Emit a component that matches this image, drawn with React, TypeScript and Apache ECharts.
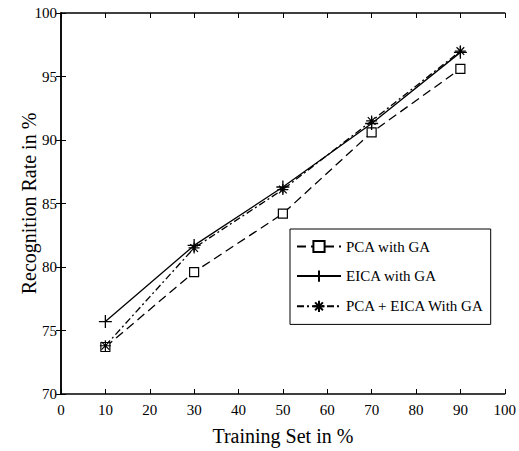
import React, { useEffect, useRef } from "react";
import * as echarts from "echarts";

const trainingSet = [10, 30, 50, 70, 90];
const pcaWithGA = [73.7, 79.6, 84.2, 90.6, 95.6];
const eicaWithGA = [75.7, 81.7, 86.3, 91.3, 96.9];
const pcaEicaWithGA = [73.8, 81.5, 86.1, 91.5, 97.0];
const seriesNames = ["PCA with GA", "EICA with GA", "PCA + EICA With GA"];

const FONT = "Liberation Serif";
const PLUS = "path://M0,-10L0,10M-10,0L10,0";
const STAR = "path://M0,-10L0,10M-10,0L10,0M-7,-7L7,7M-7,7L7,-7";

export default function App() {
  const ref = useRef<HTMLDivElement>(null);
  useEffect(() => {
    if (!ref.current) return;
    const chart = echarts.init(ref.current, undefined, { renderer: "svg" });
    const pair = (ys: number[]) => trainingSet.map((x, i) => [x, ys[i]]);
    const tick = { show: true, inside: true, length: 5, lineStyle: { color: "#000", width: 1 } };
    const axisLine = { show: true, lineStyle: { color: "#000", width: 1.5 } };
    const label = { color: "#000", fontFamily: FONT, fontSize: 15 };
    chart.setOption({
      animation: false,
      backgroundColor: "#fff",
      grid: { left: 61, top: 13, right: 12, bottom: 56 },
      legend: {
        orient: "vertical",
        left: 290,
        top: 229,
        padding: [10, 6, 10, 6],
        itemGap: 14,
        itemWidth: 44,
        itemHeight: 14,
        borderColor: "#000",
        borderWidth: 1,
        borderRadius: 0,
        backgroundColor: "#fff",
        textStyle: { color: "#000", fontFamily: FONT, fontSize: 15 },
        data: seriesNames,
      },
      xAxis: [
        {
          type: "value",
          min: 0,
          max: 100,
          interval: 10,
          axisLine,
          axisTick: tick,
          splitLine: { show: false },
          axisLabel: { ...label, margin: 8 },
          name: "Training Set in %",
          nameLocation: "middle",
          nameGap: 32,
          nameTextStyle: { color: "#000", fontFamily: FONT, fontSize: 20 },
        },
        {
          type: "value",
          position: "top",
          min: 0,
          max: 100,
          interval: 10,
          axisLine,
          axisTick: tick,
          splitLine: { show: false },
          axisLabel: { show: false },
        },
      ],
      yAxis: [
        {
          type: "value",
          min: 70,
          max: 100,
          interval: 5,
          axisLine,
          axisTick: tick,
          splitLine: { show: false },
          axisLabel: { ...label, margin: 4 },
          name: "Recognition Rate in %",
          nameLocation: "middle",
          nameGap: 22,
          nameMoveOverlap: false,
          nameTextStyle: { color: "#000", fontFamily: FONT, fontSize: 20 },
        },
        {
          type: "value",
          position: "right",
          min: 70,
          max: 100,
          interval: 5,
          axisLine,
          axisTick: tick,
          splitLine: { show: false },
          axisLabel: { show: false },
        },
      ],
      series: [
        {
          name: seriesNames[0],
          type: "line",
          data: pair(pcaWithGA),
          symbol: "rect",
          symbolSize: 9,
          lineStyle: { color: "#000", width: 1.3, type: [9, 5] },
          itemStyle: { color: "#fff", borderColor: "#000", borderWidth: 1.2 },
        },
        {
          name: seriesNames[1],
          type: "line",
          data: pair(eicaWithGA),
          symbol: PLUS,
          symbolSize: 13,
          lineStyle: { color: "#000", width: 1.3, type: "solid" },
          itemStyle: { color: "none", borderColor: "#000", borderWidth: 1.3 },
        },
        {
          name: seriesNames[2],
          type: "line",
          data: pair(pcaEicaWithGA),
          symbol: STAR,
          symbolSize: 11,
          lineStyle: { color: "#000", width: 1.3, type: [7, 3, 2, 3] },
          itemStyle: { color: "none", borderColor: "#000", borderWidth: 1.2 },
        },
      ],
    });
    return () => chart.dispose();
  }, []);
  return (
    <div
      ref={ref}
      style={{ position: "fixed", left: 0, top: 0, width: 519, height: 451, background: "#fff" }}
    />
  );
}
